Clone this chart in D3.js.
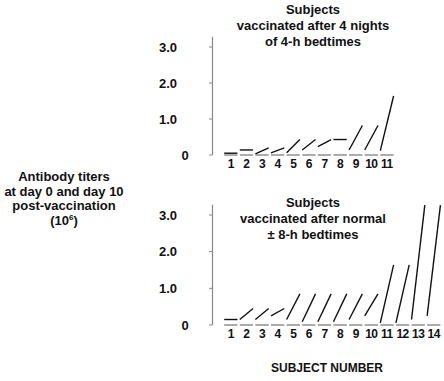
<!DOCTYPE html>
<html><head><meta charset="utf-8">
<script src="https://cdn.jsdelivr.net/npm/d3@7"></script>
<style>body{margin:0;background:#fff}svg{display:block;font-family:"Liberation Sans",Arial,sans-serif;font-weight:bold}</style>
</head><body><svg id="c" width="444" height="381"></svg>
<script>
const subjectsTop = [1,2,3,4,5,6,7,8,9,10,11];
const day0Top  = [0.05,0.14,0.03,0.06,0.06,0.14,0.23,0.43,0.14,0.14,0.12];
const day10Top = [0.05,0.14,0.20,0.20,0.43,0.43,0.43,0.43,0.82,0.82,1.64];
const subjectsBottom = [1,2,3,4,5,6,7,8,9,10,11,12,13,14];
const day0Bottom  = [0.15,0.15,0.15,0.25,0.15,0.09,0.09,0.09,0.15,0.25,0.06,0.06,0.15,0.25];
const day10Bottom = [0.15,0.45,0.45,0.45,0.85,0.85,0.85,0.85,0.85,0.85,1.64,1.64,3.27,3.27];
const yTicks = [0,1,2,3];
const yTickLabels = ["0","1.0","2.0","3.0"];
const titleTop = ["Subjects","vaccinated after 4 nights","of 4-h bedtimes"];
const titleBottom = ["Subjects","vaccinated after normal","\u00b1 8-h bedtimes"];
const yTitle = ["Antibody titers","at day 0 and day 10","post-vaccination"];
const xTitle = "SUBJECT NUMBER";

const svg = d3.select("#c");
const x = d3.scaleBand().domain(subjectsBottom).range([223, 441.6]).paddingInner(0.15).paddingOuter(0.075);

function panel(subjects, d0, d10, y0px, ytop, title, titleY) {
  const y = d3.scaleLinear().domain([0, 3]).range([y0px, ytop]);
  const g = svg.append("g");
  g.append("line").attr("x1", 212.5).attr("x2", 212.5)
    .attr("y1", y(0)).attr("y2", y(3.28)).attr("stroke", "#888").attr("stroke-width", 1.2);
  g.selectAll(".tk").data(yTicks).join("line")
    .attr("x1", 209).attr("x2", 212.5).attr("y1", d => y(d)).attr("y2", d => y(d))
    .attr("stroke", "#888").attr("stroke-width", 1);
  g.selectAll(".tl").data(yTicks).join("text")
    .attr("x", d => d === 0 ? 185 : 177).attr("y", d => y(d) + 4.5)
    .attr("text-anchor", d => d === 0 ? "middle" : "end")
    .attr("font-size", 13).attr("fill", "#111")
    .text((d, i) => yTickLabels[i]);
  g.selectAll(".bs").data(subjects).join("line")
    .attr("x1", d => x(d)).attr("x2", d => x(d) + x.bandwidth())
    .attr("y1", y(0)).attr("y2", y(0)).attr("stroke", "#888").attr("stroke-width", 1.4);
  g.selectAll(".sn").data(subjects).join("text")
    .attr("x", d => x(d) + x.bandwidth() / 2).attr("y", y(0) + 12.5)
    .attr("text-anchor", "middle").attr("font-size", 12).attr("letter-spacing", -0.5)
    .attr("fill", "#111").text(d => d);
  g.selectAll(".dl").data(subjects).join("line")
    .attr("x1", d => x(d)).attr("x2", d => x(d) + x.bandwidth())
    .attr("y1", (d, i) => y(d0[i])).attr("y2", (d, i) => y(d10[i]))
    .attr("stroke", "#111").attr("stroke-width", 1.4);
  g.selectAll(".tt").data(title).join("text")
    .attr("x", 313).attr("y", (d, i) => titleY + i * 16)
    .attr("text-anchor", "middle").attr("font-size", 13).attr("fill", "#111")
    .text(d => d);
}

panel(subjectsTop, day0Top, day10Top, 155, 47, titleTop, 14);
panel(subjectsBottom, day0Bottom, day10Bottom, 325, 215, titleBottom, 207);

const yt = svg.append("text").attr("text-anchor", "middle").attr("font-size", 13).attr("fill", "#111");
yTitle.forEach((t, i) => yt.append("tspan").attr("x", 64).attr("y", 181 + i * 14.5).text(t));
const exp = yt.append("tspan").attr("x", 64).attr("y", 181 + 3 * 14.5);
exp.append("tspan").text("(10");
exp.append("tspan").attr("font-size", 8).attr("dy", -5).text("6");
exp.append("tspan").attr("dy", 5).text(")");

svg.append("text").attr("x", 327).attr("y", 372).attr("text-anchor", "middle")
  .attr("font-size", 12).attr("fill", "#111").text(xTitle);
</script></body></html>
